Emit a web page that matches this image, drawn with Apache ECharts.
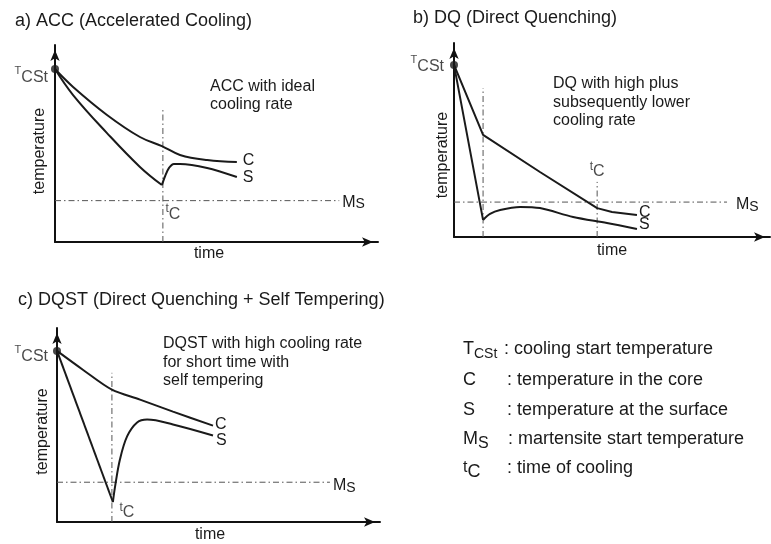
<!DOCTYPE html>
<html>
<head>
<meta charset="utf-8">
<script src="https://cdn.jsdelivr.net/npm/echarts@6/dist/echarts.min.js"></script>
<style>
  html, body { margin: 0; padding: 0; background: #fff; }
  #chart { width: 771px; height: 544px; }
</style>
</head>
<body>
<div id="chart"></div>
<script>
// schematic cooling curves: x = time, y = temperature, both in arbitrary units 0..100

// a) ACC
const accCore = [[0, 87.8], [5.6, 78.7], [16.1, 64.5], [26.3, 53.3], [33.1, 48.7], [38.7, 44.2], [47.1, 41.6], [56.3, 40.6]];
const accSurfaceFall = [[0, 87.8], [5.6, 74.6], [16.1, 55.3], [26.3, 38.1], [33.1, 28.9]];
const accSurfaceRise = [[33.1, 28.9], [34.1, 33.5], [35.3, 37.6], [36.8, 39.6], [38.7, 39.6], [47.1, 37.6], [56.3, 33.0]];
const accTcst = 87.8;
const accMs = [21, 88];        // level, end of line
const accTc = [33.4, 67];      // time of cooling, top of marker line

// b) DQ
const dqCore = [[0, 88.7], [9.2, 52.6], [27.2, 33.5], [45.3, 14.9], [50.0, 12.9], [57.9, 11.3]];
const dqSurfaceFall = [[0, 88.7], [9.2, 8.8]];
const dqSurfaceRise = [[9.2, 8.8], [11.4, 11.9], [14.6, 13.9], [20.9, 15.5], [27.2, 14.9], [37.7, 10.3], [48.4, 7.2], [57.9, 4.1]];
const dqTcst = 88.7;
const dqMs = [18, 86.4];
const dqKnee = [9.2, 76.8];
const dqTc = [45.3, 28.4];

// c) DQST
const dqstCore = [[0, 88.2], [8.0, 78.5], [17.0, 68.2], [25.7, 63.1], [35.9, 56.9], [48.3, 49.7]];
const dqstSurfaceFall = [[0, 88.2], [17.3, 10.3]];
const dqstSurfaceRise = [[17.3, 10.3], [18.0, 18.5], [19.5, 32.3], [21.7, 44.1], [24.8, 51.3], [27.9, 52.8], [35.9, 50.3], [48.3, 44.6]];
const dqstTcst = 88.2;
const dqstMs = [20.5, 84.5];
const dqstTc = [17.0, 76.9];

const titles = ['a) ACC (Accelerated Cooling)', 'b) DQ (Direct Quenching)', 'c) DQST (Direct Quenching + Self Tempering)'];
const notes = ['ACC with ideal\ncooling rate', 'DQ with high plus\nsubsequently lower\ncooling rate', 'DQST with high cooling rate\nfor short time with\nself tempering'];
const legendText = [': cooling start temperature', ': temperature in the core', ': temperature at the surface', ': martensite start temperature', ': time of cooling'];

const FONT = '"Liberation Sans", Arial, sans-serif';
const INK = '#1a1a1a';

const chart = echarts.init(document.getElementById('chart'), null, { renderer: 'canvas' });

function tok(size, extra) {
  return Object.assign({ fontSize: size, lineHeight: size, fontFamily: FONT, color: INK }, extra);
}
const tcstRich = { t: tok(11, { verticalAlign: 'top' }), s: tok(16, { padding: [8, 0, 0, 0] }) };
const msRich = { m: tok(16, { verticalAlign: 'top' }), s: tok(14, { padding: [5, 0, 0, 0] }) };
const tcRich = { t: tok(12, { verticalAlign: 'top' }), c: tok(16, { padding: [6, 0, 0, 0] }) };

function xAxis(i, gap, pad) {
  return {
    gridIndex: i, type: 'value', min: 0, max: 100,
    name: 'time', nameLocation: 'middle', nameGap: gap,
    nameTextStyle: { fontSize: 16, fontFamily: FONT, color: INK, padding: [0, pad, 0, 0] },
    axisLine: { show: true, onZero: false, symbol: ['none', 'arrow'], symbolSize: [7, 11], symbolOffset: [0, -5],
      lineStyle: { color: '#111', width: 2 } },
    axisTick: { show: false }, axisLabel: { show: false }, splitLine: { show: false }
  };
}
function yAxis(i, gap, pad) {
  return {
    gridIndex: i, type: 'value', min: 0, max: 100,
    name: 'temperature', nameLocation: 'middle', nameGap: gap, nameRotate: 90,
    nameTextStyle: { fontSize: 16, fontFamily: FONT, color: INK, padding: [0, pad, 0, 0] },
    axisLine: { show: true, onZero: false, symbol: ['none', 'arrow'], symbolSize: [7, 11], symbolOffset: [0, -5],
      lineStyle: { color: '#111', width: 2 } },
    axisTick: { show: false }, axisLabel: { show: false }, splitLine: { show: false }
  };
}

function curve(i, data, extra) {
  return Object.assign({
    type: 'line', xAxisIndex: i, yAxisIndex: i, data: data, symbol: 'none', clip: false, silent: true,
    lineStyle: { color: INK, width: 2 }
  }, extra);
}
function guide(i, data, extra) {
  return curve(i, data, Object.assign({ lineStyle: { color: '#555', width: 1, type: [6, 3, 1.5, 3] } }, extra));
}
function endLabel(text, distance, dy, rich) {
  return { show: true, formatter: text, distance: distance, offset: [0, dy], fontSize: 16, fontFamily: FONT, color: INK, rich: rich };
}
function startDot(i, y, distance, dy) {
  return {
    type: 'scatter', xAxisIndex: i, yAxisIndex: i, data: [[0, y]], symbolSize: 8, clip: false, silent: true,
    itemStyle: { color: INK },
    label: { show: true, position: 'left', distance: distance, offset: [0, dy], formatter: '{t|T}{s|CSt}', rich: tcstRich }
  };
}
function tcLabel(i, point, pos) {
  return {
    type: 'scatter', xAxisIndex: i, yAxisIndex: i, data: [point], symbolSize: 1, clip: false, silent: true,
    itemStyle: { color: 'rgba(0,0,0,0)' },
    label: { show: true, position: pos, align: 'left', verticalAlign: 'top', formatter: '{t|t}{c|C}', rich: tcRich }
  };
}

const series = [
  // a) ACC
  guide(0, [[0, accMs[0]], [accMs[1], accMs[0]]], { endLabel: endLabel('{m|M}{s|S}', 3, 1.5, msRich) }),
  guide(0, [[accTc[0], 0], [accTc[0], accTc[1]]]),
  tcLabel(0, [accTc[0], accMs[0]], [3, 3]),
  curve(0, accCore, { smooth: 0.4, endLabel: endLabel('C', 6, -1) }),
  curve(0, accSurfaceFall, { smooth: 0.4 }),
  curve(0, accSurfaceRise, { smooth: 0.3, endLabel: endLabel('S', 6, 0.5) }),
  startDot(0, accTcst, 3, 4.5),

  // b) DQ
  guide(1, [[0, dqMs[0]], [dqMs[1], dqMs[0]]], { endLabel: endLabel('{m|M}{s|S}', 9, 2.5, msRich) }),
  guide(1, [[dqKnee[0], 0], [dqKnee[0], dqKnee[1]]]),
  guide(1, [[dqTc[0], 0], [dqTc[0], dqTc[1]]]),
  tcLabel(1, [dqTc[0], dqTc[1]], [-7, -20.5]),
  curve(1, dqCore, { endLabel: endLabel('C', 2, -2) }),
  curve(1, dqSurfaceFall),
  curve(1, dqSurfaceRise, { smooth: 0.3, endLabel: endLabel('S', 2, -4) }),
  startDot(1, dqTcst, 6, -2),

  // c) DQST
  guide(2, [[0, dqstMs[0]], [dqstMs[1], dqstMs[0]]], { endLabel: endLabel('{m|M}{s|S}', 3, 3.5, msRich) }),
  guide(2, [[dqstTc[0], 0], [dqstTc[0], dqstTc[1]]]),
  tcLabel(2, [dqstTc[0], 0], [8, -20]),
  curve(2, dqstCore, { smooth: 0.3, endLabel: endLabel('C', 2, -1) }),
  curve(2, dqstSurfaceFall),
  curve(2, dqstSurfaceRise, { smooth: 0.35, endLabel: endLabel('S', 3, 5) }),
  startDot(2, dqstTcst, 5, 1.5)
];

function text(x, y, str, size, extra) {
  return { type: 'text', x: x, y: y, silent: true, z: 10,
    style: Object.assign({ text: str, fontSize: size, fontFamily: FONT, fill: INK, align: 'left', verticalAlign: 'middle' }, extra) };
}
function legTok(size, extra) {
  return Object.assign({ fontSize: size, lineHeight: size, fontFamily: FONT, fill: INK }, extra);
}

const graphic = [
  text(15, 21.5, titles[0], 18),
  text(413, 18.5, titles[1], 18),
  text(18, 300.5, titles[2], 18),
  text(210, 78, notes[0], 16, { verticalAlign: 'top', lineHeight: 18 }),
  text(553, 74.75, notes[1], 16, { verticalAlign: 'top', lineHeight: 18.5 }),
  text(163, 334.75, notes[2], 16, { verticalAlign: 'top', lineHeight: 18.5 }),
  // legend symbols
  text(463, 340.5, '{t|T}{s|CSt}', 18, { verticalAlign: 'top',
    rich: { t: legTok(18, { verticalAlign: 'top' }), s: legTok(14, { padding: [9.5, 0, 0, 0] }) } }),
  text(463, 380, 'C', 18),
  text(463, 410, 'S', 18),
  text(463, 430, '{m|M}{s|S}', 18, { verticalAlign: 'top',
    rich: { m: legTok(18, { verticalAlign: 'top' }), s: legTok(16, { padding: [10, 0, 0, 0] }) } }),
  text(463, 459.5, '{t|t}{c|C}', 18, { verticalAlign: 'top',
    rich: { t: legTok(16, { verticalAlign: 'top' }), c: legTok(18, { padding: [7, 0, 0, 0] }) } }),
  // legend descriptions
  text(504, 349, legendText[0], 18),
  text(507, 380, legendText[1], 18),
  text(507, 410, legendText[2], 18),
  text(508, 439.5, legendText[3], 18),
  text(507, 468.5, legendText[4], 18)
];

chart.setOption({
  animation: false,
  backgroundColor: '#fff',
  grid: [
    { left: 55, top: 45, width: 323, height: 197 },
    { left: 454, top: 43, width: 316, height: 194 },
    { left: 57, top: 328, width: 323, height: 195 }
  ],
  xAxis: [xAxis(0, 4, 15), xAxis(1, 6, 0), xAxis(2, 5, 17)],
  yAxis: [yAxis(0, 7, 15), yAxis(1, 3, 30), yAxis(2, 6, 13)],
  series: series,
  graphic: graphic
});
</script>
</body>
</html>
